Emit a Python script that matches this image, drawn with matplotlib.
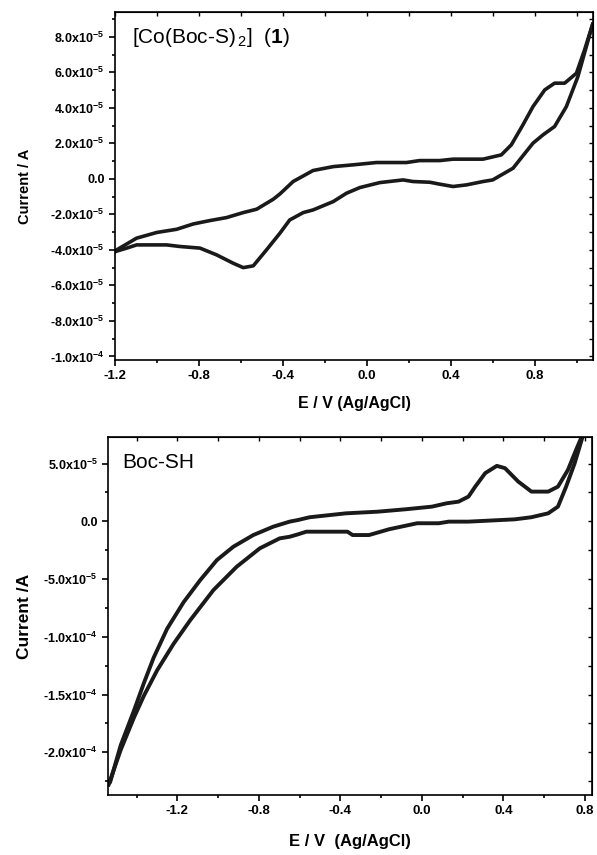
import numpy as np
import matplotlib.pyplot as plt
from matplotlib.ticker import MultipleLocator, FuncFormatter, NullFormatter

plt.rcParams["font.family"] = ["Liberation Sans", "DejaVu Sans"]
plt.rcParams["mathtext.fontset"] = "custom"
plt.rcParams["mathtext.rm"] = "Liberation Sans"
plt.rcParams["mathtext.bf"] = "Liberation Sans:bold"
plt.rcParams["axes.unicode_minus"] = False

# [Co(Boc-S)2] (1): forward (upper) branch, E in V and I in 1e-5 A
co_fwd_e = [-1.2, -1.192, -1.097, -1.001, -0.906, -0.827, -0.748, -0.668, -0.589,
            -0.525, -0.446, -0.414, -0.351, -0.256, -0.160, -0.065, 0.046, 0.189,
            0.252, 0.348, 0.411, 0.554, 0.641, 0.689, 0.744, 0.792, 0.848, 0.895,
            0.943, 0.999, 1.038, 1.076]
co_fwd_i = [-4.1, -4.0, -3.34, -3.02, -2.84, -2.54, -2.35, -2.18, -1.9,
            -1.71, -1.15, -0.85, -0.15, 0.47, 0.69, 0.79, 0.92, 0.92,
            1.03, 1.03, 1.11, 1.11, 1.35, 1.92, 3.04, 4.07, 5.01, 5.39,
            5.39, 5.95, 7.27, 8.7]
# reverse (lower) branch, right to left
co_rev_e = [1.076, 1.006, 0.951, 0.895, 0.840, 0.792, 0.744, 0.697, 0.600, 0.554,
            0.475, 0.411, 0.348, 0.300, 0.220, 0.173, 0.062, -0.033, -0.097,
            -0.160, -0.256, -0.303, -0.351, -0.367, -0.414, -0.478, -0.541,
            -0.589, -0.637, -0.716, -0.795, -0.890, -0.954, -1.097, -1.144, -1.2]
co_rev_i = [8.7, 5.76, 4.07, 2.95, 2.48, 2.01, 1.30, 0.60, -0.06, -0.15,
            -0.34, -0.43, -0.30, -0.19, -0.15, -0.06, -0.21, -0.49, -0.81,
            -1.28, -1.75, -1.90, -2.21, -2.31, -3.06, -4.0, -4.9,
            -5.0, -4.75, -4.28, -3.90, -3.81, -3.72, -3.72, -3.90, -4.1]

# Boc-SH
boc_fwd_e = [-1.537, -1.530, -1.478, -1.413, -1.364, -1.316, -1.250, -1.169, -1.088,
             -1.006, -0.925, -0.827, -0.730, -0.649, -0.608, -0.551, -0.372, -0.218,
             -0.080, 0.050, 0.122, 0.180, 0.229, 0.262, 0.311, 0.368, 0.408, 0.473,
             0.538, 0.620, 0.668, 0.717, 0.757, 0.785, 0.792]
boc_fwd_i = [-22.7, -22.6, -19.4, -16.4, -14.0, -11.8, -9.3, -7.0, -5.1,
             -3.36, -2.2, -1.19, -0.47, -0.03, 0.11, 0.35, 0.69, 0.83,
             1.04, 1.27, 1.56, 1.70, 2.14, 3.0, 4.17, 4.8, 4.6, 3.44,
             2.57, 2.57, 3.0, 4.45, 6.19, 7.34, 7.5]
boc_rev_e = [0.792, 0.750, 0.708, 0.668, 0.620, 0.537, 0.456, 0.229, 0.132, 0.083,
             -0.023, -0.161, -0.259, -0.340, -0.365, -0.567, -0.608, -0.649, -0.698,
             -0.795, -0.909, -1.023, -1.137, -1.218, -1.299, -1.364, -1.413, -1.478,
             -1.537]
boc_rev_i = [7.5, 5.03, 3.0, 1.27, 0.69, 0.35, 0.17, -0.03, -0.03, -0.17,
             -0.17, -0.69, -1.19, -1.19, -0.9, -0.9, -1.13, -1.34, -1.48,
             -2.34, -3.94, -5.96, -8.57, -10.6, -12.9, -15.1, -17.0, -19.8,
             -22.8]


def sci_label(v, pos):
    if abs(v) < 1e-12:
        return "0.0"
    exp = int(np.floor(np.log10(abs(v)) + 1e-9))
    mant = v / 10 ** exp
    return r"%.1fx10$^{\mathbf{%d}}$" % (mant, exp)


def x_label(v, pos):
    return "0.0" if abs(v) < 1e-9 else "%.1f" % v


def style_axes(ax, ymajor, yminor):
    ax.xaxis.set_major_locator(MultipleLocator(0.4))
    ax.xaxis.set_minor_locator(MultipleLocator(0.2))
    ax.yaxis.set_major_locator(MultipleLocator(ymajor))
    ax.yaxis.set_minor_locator(MultipleLocator(yminor))
    ax.xaxis.set_major_formatter(FuncFormatter(x_label))
    ax.yaxis.set_major_formatter(FuncFormatter(sci_label))
    ax.tick_params(which="both", direction="out", width=1.2)
    ax.tick_params(axis="x", labelsize=9.5)
    ax.tick_params(axis="y", labelsize=9)
    ax.tick_params(which="major", length=4)
    ax.tick_params(which="minor", length=2.5)
    for lab in ax.get_xticklabels() + ax.get_yticklabels():
        lab.set_fontweight("bold")
    for sp in ax.spines.values():
        sp.set_linewidth(1.2)
    # inward ticks on top and right, no labels
    top = ax.secondary_xaxis("top")
    top.xaxis.set_major_locator(MultipleLocator(0.4))
    top.xaxis.set_minor_locator(MultipleLocator(0.2))
    top.xaxis.set_major_formatter(NullFormatter())
    top.tick_params(which="both", direction="in", width=1.0, length=3)
    right = ax.secondary_yaxis("right")
    right.yaxis.set_major_locator(MultipleLocator(ymajor))
    right.yaxis.set_minor_locator(MultipleLocator(yminor))
    right.yaxis.set_major_formatter(NullFormatter())
    right.tick_params(which="both", direction="in", width=1.0, length=3)


fig = plt.figure(figsize=(5.97, 8.55), dpi=100)

ax1 = fig.add_axes([0.1926, 0.579, 0.8007, 0.407])
ax1.plot(co_fwd_e, np.array(co_fwd_i) * 1e-5, color="#1a1a1a", lw=2.6, solid_joinstyle="round")
ax1.plot(co_rev_e, np.array(co_rev_i) * 1e-5, color="#1a1a1a", lw=2.6, solid_joinstyle="round")
ax1.set_xlim(-1.2, 1.078)
ax1.set_ylim(-1.02e-4, 9.4e-5)
style_axes(ax1, 2e-5, 1e-5)
ax1.set_xlabel("E / V (Ag/AgCl)", fontsize=11.5, fontweight="bold", labelpad=10)
ax1.set_ylabel("Current / A", fontsize=10.5, fontweight="bold", labelpad=13)
ax1.text(0.035, 0.96, r"[Co(Boc-S)$_{\,2}$]  ($\mathbf{1}$)", transform=ax1.transAxes,
         fontsize=15, va="top", ha="left")

ax2 = fig.add_axes([0.181, 0.0702, 0.8106, 0.4187])
ax2.plot(boc_fwd_e, np.array(boc_fwd_i) * 1e-5, color="#1a1a1a", lw=2.8, solid_joinstyle="round")
ax2.plot(boc_rev_e, np.array(boc_rev_i) * 1e-5, color="#1a1a1a", lw=2.8, solid_joinstyle="round")
ax2.set_xlim(-1.54, 0.835)
ax2.set_ylim(-2.37e-4, 7.3e-5)
style_axes(ax2, 5e-5, 2.5e-5)
ax2.set_xlabel("E / V  (Ag/AgCl)", fontsize=12, fontweight="bold", labelpad=12)
ax2.set_ylabel("Current /A", fontsize=12.5, fontweight="bold", labelpad=8)
ax2.text(0.03, 0.955, "Boc-SH", transform=ax2.transAxes, fontsize=15, va="top", ha="left")

fig.savefig("out.png", dpi=100)
